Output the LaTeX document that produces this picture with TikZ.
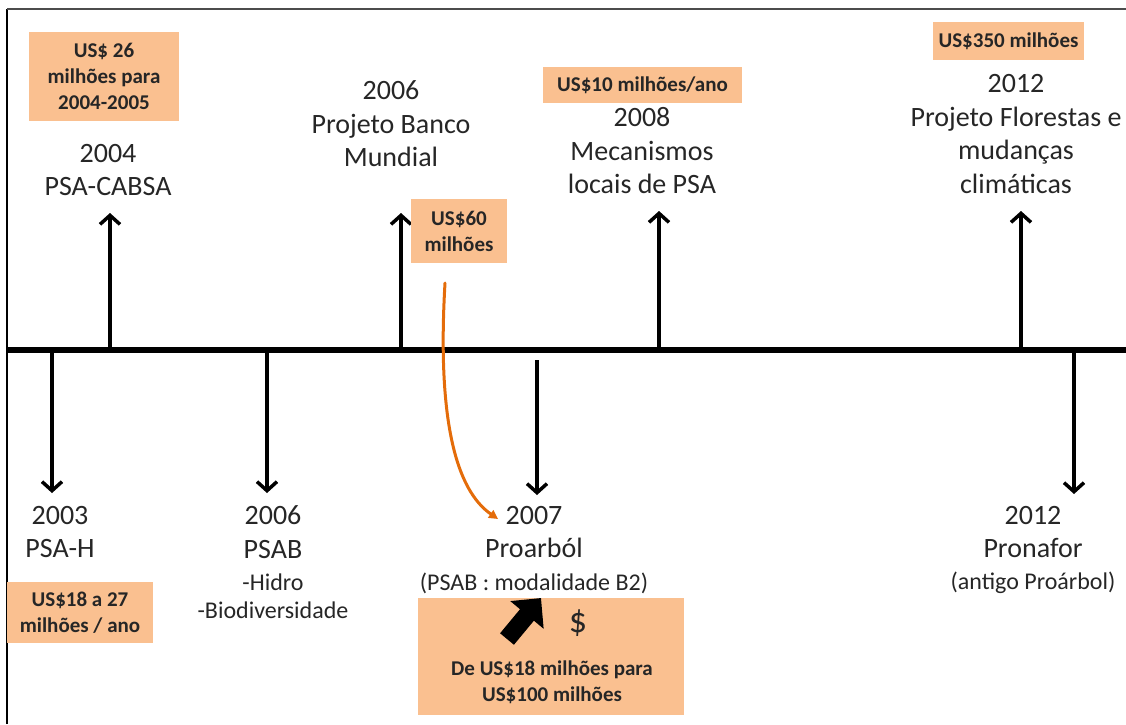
\documentclass[tikz,border=0pt]{standalone}
\usepackage{fontspec}
\setmainfont{Carlito}
\usetikzlibrary{arrows.meta}
\definecolor{moneycolor}{HTML}{FAC090}
\definecolor{linkcolor}{HTML}{E46C0A}
\definecolor{inkcolor}{HTML}{262626}

\tikzset{
  yeartext/.style={align=center,inner sep=0pt,text=inkcolor,font=\fontsize{28}{33.5}\selectfont},
  subtext/.style={align=center,inner sep=0pt,text=inkcolor,font=\fontsize{24}{28}\selectfont},
  money/.style={fill=moneycolor,align=center,inner sep=0pt,text=inkcolor,font=\bfseries\fontsize{21}{26}\selectfont},
  event/.style={line width=3.5pt,-{Straight Barb[length=9pt,width=20pt]}},
}

\begin{document}
\begin{tikzpicture}[x=1pt,y=-1pt]
  \useasboundingbox (0,0) rectangle (1126,724);
  % frame
  \coordinate (F1) at (7,724); \coordinate (F2) at (7,9); \coordinate (F3) at (1126,9);
  \draw[line width=2pt] (F1) -- (F2);
  \draw[line width=1.5pt,black!70] (F2) -- (F3);
  % timeline
  \coordinate (L) at (7,350); \coordinate (R) at (1126,350);
  \draw[line width=6pt] (L) -- (R);
  % events above the line
  \coordinate (A1) at (110,350); \coordinate (A2) at (401,350); \coordinate (A3) at (659,350); \coordinate (A4) at (1021,350);
  \coordinate (A1e) at (110,213); \coordinate (A2e) at (401,213); \coordinate (A3e) at (659,211); \coordinate (A4e) at (1021,211);
  \draw[event] (A1) -- (A1e);
  \draw[event] (A2) -- (A2e);
  \draw[event] (A3) -- (A3e);
  \draw[event] (A4) -- (A4e);
  \node[yeartext] (y04) at (108,170) {2004\\PSA-CABSA};
  \node[yeartext] (y06) at (391,124) {2006\\Projeto Banco\\Mundial};
  \node[yeartext] (y08) at (642,151) {2008\\Mecanismos\\locais de PSA};
  \node[yeartext] (y12) at (1016,134) {2012\\Projeto Florestas e\\mudanças\\climáticas};
  \node[money,minimum width=150pt,minimum height=89pt] (m04) at (104,76.5) {US\$ 26\\milhões para\\2004-2005};
  \node[money,minimum width=96pt,minimum height=64pt] (m06) at (459,231) {US\$60\\milhões};
  \node[money,minimum width=199pt,minimum height=36pt] (m08) at (642.5,85) {US\$10 milhões/ano};
  \node[money,minimum width=151pt,minimum height=38pt] (m12) at (1008.5,41) {US\$350 milhões};
  % events below the line
  \coordinate (B1) at (52,350); \coordinate (B2) at (267,350); \coordinate (B3) at (537,360); \coordinate (B4) at (1074,350);
  \coordinate (B1e) at (52,493); \coordinate (B2e) at (267,493); \coordinate (B3e) at (537,495); \coordinate (B4e) at (1074,494);
  \draw[event] (B1) -- (B1e);
  \draw[event] (B2) -- (B2e);
  \draw[event] (B3) -- (B3e);
  \draw[event] (B4) -- (B4e);
  \node[yeartext] (y03) at (60,532) {2003\\PSA-H};
  \node[yeartext] (y06b) at (273,532) {2006\\PSAB};
  \node[subtext] (s06b) at (273,596) {-Hidro\\-Biodiversidade};
  \node[yeartext] (y07) at (534,532) {2007\\Proarból};
  \node[subtext] (s07) at (534,583) {(PSAB : modalidade B2)};
  \node[yeartext] (y12b) at (1033,532) {2012\\Pronafor};
  \node[subtext] (s12b) at (1033,583) {(antigo Proárbol)};
  \node[money,minimum width=146pt,minimum height=61pt] (m03) at (80,612.5) {US\$18 a 27\\milhões / ano};
  \node[money,minimum width=266pt,minimum height=117pt] (m07) at (551,656.5) {};
  \node[yeartext,font=\fontsize{36}{36}\selectfont] (dol) at (578,623) {\$};
  \node[money,fill=none] (m07t) at (552,682.5) {De US\$18 milhões para\\US\$100 milhões};
  % increase arrow
  \coordinate (K1) at (507,639); \coordinate (K2) at (541,598);
  \draw[line width=18pt,-{Triangle[length=22pt,width=42pt]}] (K1) -- (K2);
  % link from the loan to Proarbol
  \coordinate (O1) at (445,283); \coordinate (O2) at (437,420); \coordinate (O3) at (456,490); \coordinate (O4) at (498,519);
  \draw[linkcolor,line width=3pt,line cap=round,-{Triangle[length=9pt,width=9pt]}] (O1) .. controls (O2) and (O3) .. (O4);
\end{tikzpicture}
\end{document}
